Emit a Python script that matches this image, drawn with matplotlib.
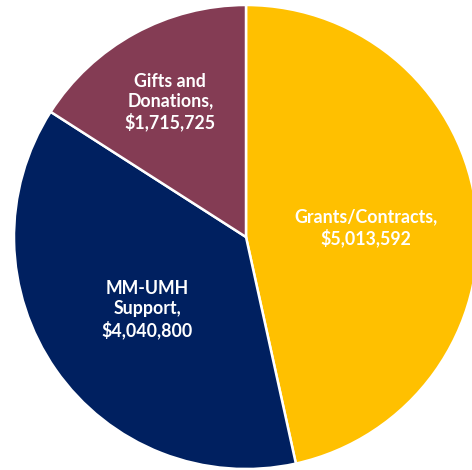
import matplotlib
matplotlib.use("Agg")
import matplotlib.pyplot as plt
import numpy as np

categories = ["Grants/Contracts", "MM-UMH\nSupport", "Gifts and\nDonations"]
values = [5013592, 4040800, 1715725]
colors = ["#FFC000", "#002060", "#843C54"]
label_radii = [0.52, 0.52, 0.68]

W, H = 472, 470
fig = plt.figure(figsize=(W / 100, H / 100), dpi=100)
ax = fig.add_axes([0, 0, 1, 1])
wedges, _ = ax.pie(values, colors=colors, startangle=90, counterclock=False,
                   radius=1.0, wedgeprops=dict(edgecolor="white", linewidth=1.8))
cx, cy, r = 246, 233, 232
ax.set_xlim(-cx / r, (W - cx) / r)
ax.set_ylim(-cy / r, (H - cy) / r)
ax.set_aspect("auto")
ax.axis("off")

for w, cat, v, lr in zip(wedges, categories, values, label_radii):
    ang = np.deg2rad((w.theta1 + w.theta2) / 2)
    ax.text(lr * np.cos(ang), lr * np.sin(ang) - 0.015, f"{cat},\n${v:,}",
            ha="center", va="center", color="white", fontsize=12.8,
            fontweight="bold", family="Lato", linespacing=1.2)

fig.savefig("out.png", dpi=100)
